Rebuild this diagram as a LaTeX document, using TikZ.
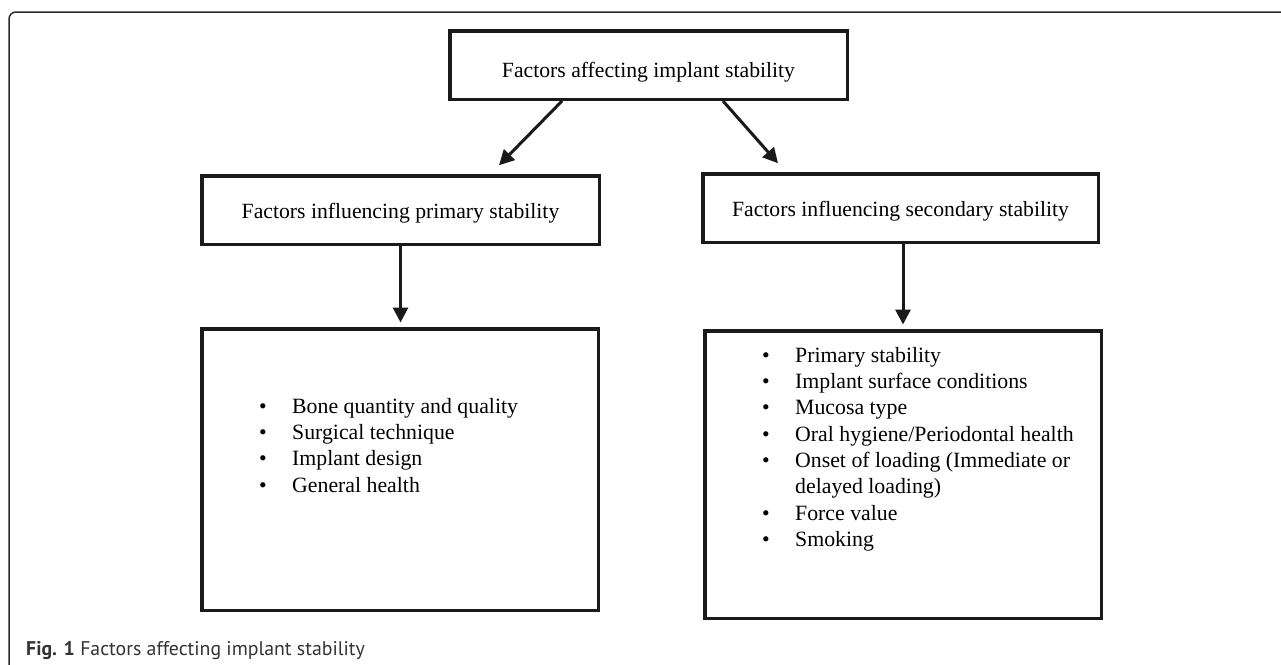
\documentclass[tikz,border=0pt]{standalone}
\usepackage{fontspec}
\setmainfont{Liberation Serif}
\newfontfamily\capfont{PT Sans}
\usetikzlibrary{arrows.meta,calc}
\definecolor{ink}{HTML}{1A1A1A}
\definecolor{framecol}{HTML}{2A2A2A}
\definecolor{captxt}{HTML}{333333}
\begin{document}
\begin{tikzpicture}[x=1pt,y=-1pt,
  box/.style={draw=ink, line width=3.5pt, inner sep=0pt, text=black,
    font=\fontsize{21.7}{26.3}\selectfont},
  arr/.style={draw=ink, line width=3pt, -{Triangle[length=15pt,width=15pt]}},
  listtext/.style={align=left, inner sep=0pt, anchor=north west, text=black,
    font=\fontsize{21.8}{26.3}\selectfont}
]
\useasboundingbox (0,0) rectangle (1281,664);
\draw[framecol, line width=1.5pt, rounded corners=7pt] (1300,12) -- (9,12) -- (9,690);

\node[box, minimum width=397.5pt, minimum height=68.5pt, text height=24pt, text depth=0pt]
  (top) at (648.5,65) {Factors affecting implant stability};
\node[box, minimum width=397.5pt, minimum height=68.5pt, text height=16pt, text depth=0pt]
  (prim) at (400.5,210) {Factors influencing primary stability};
\node[box, minimum width=395.5pt, minimum height=68.5pt, text height=16pt, text depth=0pt]
  (sec) at (900.5,208) {Factors influencing secondary stability};
\node[box, minimum width=396.5pt, minimum height=281.5pt] (plist) at (400,469.5) {};
\node[box, minimum width=396.5pt, minimum height=287.5pt] (slist) at (903,474.5) {};

\node[listtext] (pitems) at (259,398) {%
  \makebox[33pt][l]{\textbullet}Bone quantity and quality\\
  \makebox[33pt][l]{\textbullet}Surgical technique\\
  \makebox[33pt][l]{\textbullet}Implant design\\
  \makebox[33pt][l]{\textbullet}General health};
\node[listtext] (sitems) at (762,347) {%
  \makebox[33pt][l]{\textbullet}Primary stability\\
  \makebox[33pt][l]{\textbullet}Implant surface conditions\\
  \makebox[33pt][l]{\textbullet}Mucosa type\\
  \makebox[33pt][l]{\textbullet}Oral hygiene/Periodontal health\\
  \makebox[33pt][l]{\textbullet}Onset of loading (Immediate or\\
  \hspace*{33pt}delayed loading)\\
  \makebox[33pt][l]{\textbullet}Force value\\
  \makebox[33pt][l]{\textbullet}Smoking};

\draw[arr] ($(top.south)+(-86.5,0)$) -- ($(prim.north)+(98.5,-8.75)$);
\draw[arr] ($(top.south)+(74.5,0)$) -- ($(sec.north)+(-122.5,-8.75)$);
\draw[arr, shorten >=4.5pt] (prim.south) -- (prim.south |- plist.north);
\draw[arr, shorten >=4.5pt] (sec.south -| slist.north) -- (slist.north);

\node[anchor=base west, inner sep=0pt, text=captxt,
  font=\capfont\fontsize{19.8}{23}\selectfont] (cap) at (26,655)
  {\textbf{Fig. 1} Factors affecting implant stability};
\end{tikzpicture}
\end{document}
